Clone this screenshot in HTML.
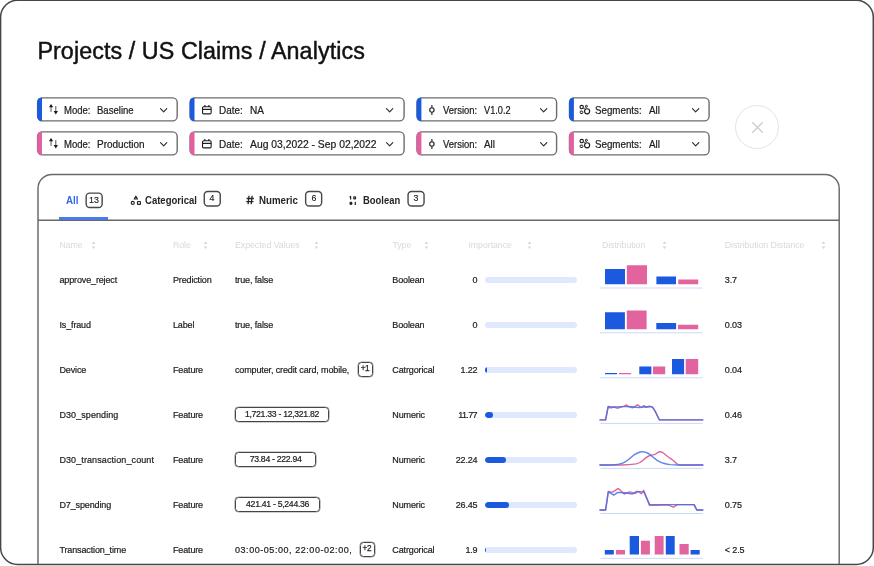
<!DOCTYPE html>
<html lang="en">
<head>
<meta charset="utf-8">
<title>Projects / US Claims / Analytics</title>
<style>
html,body{margin:0;padding:0;background:#fff;}
body{width:874px;height:566px;position:relative;overflow:hidden;font-family:"Liberation Sans",sans-serif;color:#1c1c1e;will-change:transform;}
*{box-sizing:border-box;}
.bg{position:absolute;left:0;top:0;width:874px;height:566px;pointer-events:none;}
h1{position:absolute;left:37.4px;top:37.2px;margin:0;font-size:23.3px;line-height:28px;font-weight:400;letter-spacing:.08px;white-space:nowrap;color:#111;-webkit-text-stroke:.45px #111;}

/* filter pills */
.pill{position:absolute;height:25px;font-size:10.5px;line-height:12px;white-space:nowrap;color:#202022;}
.r1{top:97px;--dy:0px;} .r2{top:131px;--dy:.05px;}
.pill .ol{position:absolute;left:0;top:0;width:100%;height:100%;overflow:visible;}
.pill .ol g{transform:translate(var(--dx),var(--dy));}
.pill .ol rect{x:.7px;y:.85px;height:23px;rx:4.6px;ry:4.6px;fill:#fff;stroke:#6c6c6c;stroke-width:1.4px;}
.pill.b .ol path{fill:#1b59df;} .pill.p .ol path{fill:#e2609f;}
.pill span{position:absolute;top:6.5px;display:block;transform-origin:0 50%;transform:scaleX(.915);-webkit-text-stroke:.22px #202022;}
.pill .ic,.pill .cv{position:absolute;overflow:visible;}
.pill .ic{top:7.4px;width:10px;height:10px;}
.pill .cv{top:10.9px;width:7.3px;height:4.7px;}
.mode{left:36px;width:143px;} .mode{--dx:.9px;} .mode .ol rect{width:139.6px;} .mode .ic{left:13.2px;} .mode .lb{left:27.9px;} .mode .vl{left:61.4px;} .mode .cv{left:123.9px;}
.date{left:189px;width:217px;} .date{--dx:.4px;} .date .ol rect{width:214px;} .date .ic{left:13px;top:7.8px;} .date .lb{left:30px;} .date .vl{left:60.5px;} .date .cv{left:197.2px;}
.vers{left:416px;width:143px;} .vers{--dx:.3px;} .vers .ol rect{width:139.6px;} .vers .ic{left:13.1px;top:8.2px;} .vers .lb{left:27.3px;} .vers .vl{left:68px;} .vers .cv{left:123.6px;}
.segm{left:568px;width:143px;} .segm{--dx:.8px;} .segm .ol rect{width:139.6px;} .segm .ic{left:11.3px;width:11px;top:8.3px;} .segm .lb{left:26.9px;} .segm .vl{left:81.2px;} .segm .cv{left:123.5px;}

.close{position:absolute;left:735px;top:105px;width:44px;height:44px;border:1px solid #e4e4e8;border-radius:50%;background:#fff;}
.close svg{position:absolute;left:50%;top:50%;width:13px;height:13px;margin:-5.9px 0 0 -6.5px;}

/* tabs */
.tab{position:absolute;top:192.8px;height:14px;font-size:10.6px;line-height:14px;font-weight:700;white-space:nowrap;color:#252527;transform-origin:0 50%;transform:scaleX(.925);}
.tab.on{color:#3069e8;}
.cnt{position:absolute;width:18px;height:17px;font-size:9.8px;line-height:17px;text-align:center;color:#1a1a1c;-webkit-text-stroke:.15px #1a1a1c;}
.cnt svg{position:absolute;left:0;top:0;width:18px;height:17px;overflow:visible;}
.cnt b{position:relative;font-weight:400;display:block;transform:scaleX(.9);}
.tic{position:absolute;overflow:visible;}
.ind{position:absolute;left:58.9px;top:216.9px;width:49.4px;height:2.7px;background:#4a7ae8;}

/* table */
.th{position:absolute;top:239.1px;height:13px;font-size:8.8px;line-height:13px;color:#d9d9de;white-space:nowrap;letter-spacing:-.05px;}
.so{position:absolute;top:241.4px;width:5px;height:8.4px;overflow:visible;}
.row{position:absolute;left:38px;width:801px;height:45px;}
.row>*{position:absolute;}
.c{top:16.7px;height:13px;font-size:9px;line-height:13px;letter-spacing:-.13px;white-space:nowrap;color:#1c1c1e;-webkit-text-stroke:.2px #1c1c1e;}
.c1{left:21.4px;} .c2{left:134.9px;} .c3{left:197px;} .c4{left:354.3px;} .c5{left:380px;width:59.5px;text-align:right;} .c7{left:686.8px;}
.rng{top:15.2px;left:196.8px;height:15px;border:1px solid #454545;box-shadow:0 0 0 .3px #454545;border-radius:3.5px;font-size:8.7px;line-height:13px;text-align:center;color:#1c1c1e;white-space:nowrap;letter-spacing:-.3px;-webkit-text-stroke:.2px #1c1c1e;}
.more{top:15.3px;width:15px;height:14.6px;border:1px solid #454545;box-shadow:0 0 0 .3px #454545;border-radius:3.5px;font-size:8.2px;line-height:12.4px;text-align:center;color:#1c1c1e;letter-spacing:-.45px;text-indent:-.4px;-webkit-text-stroke:.25px #1c1c1e;}
.trk{left:447px;top:19.6px;width:92px;height:6.2px;border-radius:3.1px;background:#dfe8fc;overflow:hidden;}
.trk i{position:absolute;left:0;top:0;height:100%;border-radius:3.1px;background:#1b59df;}
.ch{left:560px;top:0;width:108px;height:45px;overflow:visible;}
</style>
</head>
<body>
<svg class="bg" viewBox="0 0 874 566" aria-hidden="true">
  <rect x="0.6" y="0.2" width="872.7" height="564.2" rx="17" ry="17" fill="#fff" stroke="#464646" stroke-width="1.5"/>
  <path d="M38 564V188.5a14 14 0 0 1 14-14H825.2a14 14 0 0 1 14 14V564" fill="none" stroke="#686868" stroke-width="1.45"/>
  <path d="M38 220.25H839.2" fill="none" stroke="#686868" stroke-width="1.45"/>
</svg>

<h1>Projects / US Claims / Analytics</h1>

<svg width="0" height="0" style="position:absolute" aria-hidden="true">
  <defs>
    <symbol id="i-mode" viewBox="0 0 10 10" overflow="visible">
      <path d="M2.05 0L4.2 3.35H-.1Z" fill="#161618"/><path d="M2.05 3V7.9" stroke="#4a4a4e" stroke-width=".95" fill="none"/>
      <path d="M6.8 10.4L4.65 7.05H8.95Z" fill="#161618"/><path d="M6.8 2.1V7.4" stroke="#4a4a4e" stroke-width=".95" fill="none"/>
    </symbol>
    <symbol id="i-date" viewBox="0 0 10 10" overflow="visible">
      <rect x=".55" y="1.8" width="8.6" height="7.1" rx="1.1" fill="none" stroke="#1c1c1e" stroke-width="1.1"/>
      <path d="M.55 4.4H9.15" stroke="#1c1c1e" stroke-width="1.2" fill="none"/><path d="M2.9 .1V2M6.9 .1V2" stroke="#1c1c1e" stroke-width="1.15" fill="none"/>
    </symbol>
    <symbol id="i-vers" viewBox="0 0 10 10" overflow="visible">
      <circle cx="2.9" cy="5" r="2.2" fill="none" stroke="#1c1c1e" stroke-width="1.1"/>
      <path d="M2.9 0.1V2.8M2.9 7.2V9.9" stroke="#1c1c1e" stroke-width="1.1" fill="none"/>
    </symbol>
    <symbol id="i-segm" viewBox="0 0 11 10" overflow="visible">
      <circle cx="2.7" cy="2.1" r="1.7" fill="none" stroke="#1c1c1e" stroke-width="1.1"/>
      <circle cx="7.4" cy="1.25" r="1" fill="none" stroke="#1c1c1e" stroke-width="1"/>
      <rect x="1.1" y="6.1" width="2.7" height="2.4" rx=".8" fill="none" stroke="#1c1c1e" stroke-width="1"/>
      <circle cx="8.1" cy="6.3" r="2.55" fill="none" stroke="#1c1c1e" stroke-width="1.15"/>
      <path d="M4.5 3.6C5.5 3.8 6.4 3.3 6.9 2.4" fill="none" stroke="#1c1c1e" stroke-width=".8"/>
    </symbol>
    <symbol id="i-chev" viewBox="0 0 7.3 4.7" overflow="visible">
      <path d="M.5 .6L3.65 3.9L6.8 .6" fill="none" stroke="#2a2a2c" stroke-width="1.1" stroke-linecap="round" stroke-linejoin="round"/>
    </symbol>
    <symbol id="i-sort" viewBox="0 0 5 8.4" overflow="visible">
      <path d="M2.5 .3L4.3 2.9H.7Z M2.5 8.1L4.3 5.5H.7Z" fill="#d6d6dc"/>
    </symbol>
  </defs>
</svg>

<div class="pill b r1 mode"><svg class="ol" aria-hidden="true"><g><rect/><path d="M5.1 .55H4.9A4.9 4.9 0 0 0 .3 5.45V19.25A4.9 4.9 0 0 0 4.9 24.15H5.1Z"/></g></svg><svg class="ic"><use href="#i-mode"/></svg><span class="lb" style="transform:scaleX(0.908)">Mode:</span><span class="vl" style="transform:scaleX(0.909)">Baseline</span><svg class="cv"><use href="#i-chev"/></svg></div>
<div class="pill b r1 date"><svg class="ol" aria-hidden="true"><g><rect/><path d="M5.1 .55H4.9A4.9 4.9 0 0 0 .3 5.45V19.25A4.9 4.9 0 0 0 4.9 24.15H5.1Z"/></g></svg><svg class="ic"><use href="#i-date"/></svg><span class="lb" style="transform:scaleX(0.944)">Date:</span><span class="vl" style="transform:scaleX(0.96)">NA</span><svg class="cv"><use href="#i-chev"/></svg></div>
<div class="pill b r1 vers"><svg class="ol" aria-hidden="true"><g><rect/><path d="M5.1 .55H4.9A4.9 4.9 0 0 0 .3 5.45V19.25A4.9 4.9 0 0 0 4.9 24.15H5.1Z"/></g></svg><svg class="ic"><use href="#i-vers"/></svg><span class="lb" style="transform:scaleX(0.899)">Version:</span><span class="vl" style="transform:scaleX(0.876)">V1.0.2</span><svg class="cv"><use href="#i-chev"/></svg></div>
<div class="pill b r1 segm"><svg class="ol" aria-hidden="true"><g><rect/><path d="M5.1 .55H4.9A4.9 4.9 0 0 0 .3 5.45V19.25A4.9 4.9 0 0 0 4.9 24.15H5.1Z"/></g></svg><svg class="ic"><use href="#i-segm"/></svg><span class="lb" style="transform:scaleX(0.93)">Segments:</span><span class="vl" style="transform:scaleX(0.94)">All</span><svg class="cv"><use href="#i-chev"/></svg></div>

<div class="pill p r2 mode"><svg class="ol" aria-hidden="true"><g><rect/><path d="M5.1 .55H4.9A4.9 4.9 0 0 0 .3 5.45V19.25A4.9 4.9 0 0 0 4.9 24.15H5.1Z"/></g></svg><svg class="ic"><use href="#i-mode"/></svg><span class="lb" style="transform:scaleX(0.908)">Mode:</span><span class="vl" style="transform:scaleX(0.948)">Production</span><svg class="cv"><use href="#i-chev"/></svg></div>
<div class="pill p r2 date"><svg class="ol" aria-hidden="true"><g><rect/><path d="M5.1 .55H4.9A4.9 4.9 0 0 0 .3 5.45V19.25A4.9 4.9 0 0 0 4.9 24.15H5.1Z"/></g></svg><svg class="ic"><use href="#i-date"/></svg><span class="lb" style="transform:scaleX(0.944)">Date:</span><span class="vl" style="transform:scaleX(0.985)">Aug 03,2022 - Sep 02,2022</span><svg class="cv"><use href="#i-chev"/></svg></div>
<div class="pill p r2 vers"><svg class="ol" aria-hidden="true"><g><rect/><path d="M5.1 .55H4.9A4.9 4.9 0 0 0 .3 5.45V19.25A4.9 4.9 0 0 0 4.9 24.15H5.1Z"/></g></svg><svg class="ic"><use href="#i-vers"/></svg><span class="lb" style="transform:scaleX(0.899)">Version:</span><span class="vl" style="transform:scaleX(0.94)">All</span><svg class="cv"><use href="#i-chev"/></svg></div>
<div class="pill p r2 segm"><svg class="ol" aria-hidden="true"><g><rect/><path d="M5.1 .55H4.9A4.9 4.9 0 0 0 .3 5.45V19.25A4.9 4.9 0 0 0 4.9 24.15H5.1Z"/></g></svg><svg class="ic"><use href="#i-segm"/></svg><span class="lb" style="transform:scaleX(0.93)">Segments:</span><span class="vl" style="transform:scaleX(0.94)">All</span><svg class="cv"><use href="#i-chev"/></svg></div>

<div class="close"><svg viewBox="0 0 12 12"><path d="M1.6 1.6L10.4 10.4M10.4 1.6L1.6 10.4" stroke="#cdcdd2" stroke-width="1.3" stroke-linecap="round" fill="none"/></svg></div>

<nav>
  <span class="tab on" style="left:66px;transform:scaleX(.925)">All</span><span class="cnt" style="left:85px;top:192px"><svg aria-hidden="true"><rect x="1.15" y="1.15" width="16" height="14.4" rx="3.5" fill="#fff" stroke="#474747" stroke-width="1.4"/></svg><b style="left:0.00px;top:-1.00px">13</b></span>
  <svg class="tic" style="left:130px;top:195px;width:11px;height:10px" viewBox="0 0 11 10"><path d="M5.85 1.2L7.5 4H4.2Z" fill="none" stroke="#252527" stroke-width="1.2" stroke-linejoin="round"/><circle cx="2.75" cy="7.95" r="1.5" fill="none" stroke="#252527" stroke-width="1.2"/><rect x="7.5" y="6.5" width="2.9" height="2.9" rx=".5" fill="none" stroke="#252527" stroke-width="1.2"/></svg>
  <span class="tab" style="left:144.6px;transform:scaleX(.90)">Categorical</span><span class="cnt" style="left:203px;top:190px"><svg aria-hidden="true"><rect x="1.25" y="1.55" width="16" height="14.4" rx="3.5" fill="#fff" stroke="#474747" stroke-width="1.4"/></svg><b style="left:0.10px;top:-0.60px">4</b></span>
  <svg class="tic" style="left:246px;top:195px;width:8px;height:10px" viewBox="0 0 8 10"><path d="M3 .7L2.1 9.3M6.1 .7L5.2 9.3M.6 3.5H7.9M.2 6.6H7.5" fill="none" stroke="#252527" stroke-width="1.3"/></svg>
  <span class="tab" style="left:259px;transform:scaleX(.915)">Numeric</span><span class="cnt" style="left:305px;top:190px"><svg aria-hidden="true"><rect x="0.65" y="1.55" width="16" height="14.4" rx="3.5" fill="#fff" stroke="#474747" stroke-width="1.4"/></svg><b style="left:-0.50px;top:-0.60px">6</b></span>
  <svg class="tic" style="left:349px;top:195.6px;width:8px;height:9px" viewBox="0 0 8 9"><path d="M.6 1.2L1.6 .5V3.4M6.3 5.8V8.9" stroke="#252527" stroke-width="1.25" fill="none" stroke-linejoin="round"/><rect x="4.7" y=".9" width="1.9" height="1.9" rx=".6" fill="none" stroke="#252527" stroke-width="1.2"/><rect x=".5" y="5.8" width="2.9" height="3.1" rx="1.1" fill="#252527"/></svg>
  <span class="tab" style="left:363.2px;transform:scaleX(.89)">Boolean</span><span class="cnt" style="left:407px;top:190px"><svg aria-hidden="true"><rect x="1.05" y="1.55" width="16" height="14.4" rx="3.5" fill="#fff" stroke="#474747" stroke-width="1.4"/></svg><b style="left:-0.10px;top:-0.60px">3</b></span>
  <i class="ind"></i>
</nav>


<div class="thead">
  <span class="th" style="left:59.4px">Name</span><svg class="so" style="left:91.1px"><use href="#i-sort"/></svg>
  <span class="th" style="left:172.9px">Role</span><svg class="so" style="left:202.9px"><use href="#i-sort"/></svg>
  <span class="th" style="left:235px">Expected Values</span><svg class="so" style="left:313.9px"><use href="#i-sort"/></svg>
  <span class="th" style="left:392.4px">Type</span><svg class="so" style="left:424.1px"><use href="#i-sort"/></svg>
  <span class="th" style="left:468.4px">Importance</span><svg class="so" style="left:526.9px"><use href="#i-sort"/></svg>
  <span class="th" style="left:601.9px">Distribution</span><svg class="so" style="left:661.9px"><use href="#i-sort"/></svg>
  <span class="th" style="left:724.8px">Distribution Distance</span><svg class="so" style="left:820.5px"><use href="#i-sort"/></svg>
</div>

<div class="row" style="top:257px">
  <span class="c c1">approve_reject</span><span class="c c2">Prediction</span><span class="c c3">true, false</span><span class="c c4">Boolean</span>
  <span class="c c5">0</span><div class="trk"></div>
  <svg class="ch" viewBox="0 0 108 45"><path d="M2 31H104.4" stroke="#cbd9f8" stroke-width="1"/><path d="M7 12H27V27.2H7ZM58.4 19.6H78V27.2H58.4Z" fill="#1b59df"/><path d="M28.8 8.3H49V27.2H28.8ZM80.3 22.6H100.2V27.2H80.3Z" fill="#e2649f"/></svg>
  <span class="c c7">3.7</span>
</div>
<div class="row" style="top:302px">
  <span class="c c1">Is_fraud</span><span class="c c2">Label</span><span class="c c3">true, false</span><span class="c c4">Boolean</span>
  <span class="c c5">0</span><div class="trk"></div>
  <svg class="ch" viewBox="0 0 108 45"><path d="M2 30.8H104.6" stroke="#cbd9f8" stroke-width="1"/><path d="M7 10.2H26.9V27.2H7ZM58.3 21H78.1V27.2H58.3Z" fill="#1b59df"/><path d="M28.8 8.6H48.6V27.2H28.8ZM80 22.7H100.2V27.2H80Z" fill="#e2649f"/></svg>
  <span class="c c7">0.03</span>
</div>
<div class="row" style="top:347px">
  <span class="c c1">Device</span><span class="c c2">Feature</span><span class="c c3">computer, credit card, mobile,</span><span class="more" style="left:319.7px">+1</span><span class="c c4">Catrgorical</span>
  <span class="c c5">1.22</span><div class="trk"><i style="width:1.8px"></i></div>
  <svg class="ch" viewBox="0 0 108 45"><path d="M2 30.8H104.6" stroke="#cbd9f8" stroke-width="1"/><path d="M7 25.9H19V27.3H7ZM41.3 19.6H53.4V27.3H41.3ZM74 12H86.1V27.3H74Z" fill="#1b59df"/><path d="M20.8 25.9H33.1V27.3H20.8ZM55 19.6H67.2V27.3H55ZM87.7 12H100.2V27.3H87.7Z" fill="#e2649f"/></svg>
  <span class="c c7">0.04</span>
</div>
<div class="row" style="top:392px">
  <span class="c c1" style="letter-spacing:.08px">D30_spending</span><span class="c c2">Feature</span><span class="rng" style="width:94.4px">1,721.33 - 12,321.82</span><span class="c c4">Numeric</span>
  <span class="c c5" style="letter-spacing:-.6px;padding-right:.5px">11.77</span><div class="trk"><i style="width:8px"></i></div>
  <svg class="ch" viewBox="0 0 108 45"><path d="M2.5 31.4H104.8" stroke="#cbd9f8" stroke-width="1"/>
    <path d="M1.5 27.9H7.6L10.2 14.6L12 15.8L13.6 15.9L16 15L19 16.2L22.5 15.4L26 14.2L28.5 13L31 14.6L34.5 15.8L37 14.4L39.5 12.8L42 14.6L44 15L46 13.6L48 15.2L51 14.2L53.5 14.6C56.5 15.5 59 24 61.5 27.9H105.3" fill="none" stroke="#e2649f" stroke-width="1.4" stroke-linejoin="round"/>
    <path d="M1.5 27.9H7.6L10.2 14.4L13 15L18 15L23 14.6L28 14.6L33 14.8L38 15.2L42 15.6L46 14.8L50 15L53.5 14.6C56.5 15.5 59 24 61.5 27.9H105.3" fill="none" stroke="#3f6fe6" stroke-opacity=".85" stroke-width="1.4" stroke-linejoin="round"/></svg>
  <span class="c c7">0.46</span>
</div>
<div class="row" style="top:437px">
  <span class="c c1" style="letter-spacing:.1px">D30_transaction_count</span><span class="c c2">Feature</span><span class="rng" style="width:81.6px">73.84 - 222.94</span><span class="c c4">Numeric</span>
  <span class="c c5">22.24</span><div class="trk"><i style="width:20.5px"></i></div>
  <svg class="ch" viewBox="0 0 108 45"><path d="M2.5 31.4H104.8" stroke="#cbd9f8" stroke-width="1"/>
    <path d="M1.5 28H24C30 28 34 27.6 38.1 26.9C41 26.3 43 25 44.5 23.7C47 21.5 49 19.6 50.8 19C52.5 18.3 53.5 18.1 54.8 17.9L57.2 17.4C58.5 16.5 60 14.7 61.5 14.7C63 14.7 64 15 65.1 15.8C67 17.2 68.5 18.8 69.9 19.8C71.5 21 73 21.8 74.7 23C77 24.8 78.5 27 80.2 27.7L83 28H105.3" fill="none" stroke="#e2649f" stroke-width="1.4" stroke-linejoin="round"/>
    <path d="M1.5 28H14C24 28 28 25 33 20.5C37 16.8 40.5 14.8 44.8 14.8C49 14.8 52 17 55.5 20.6C60 25 65 27 72 27.6L81 28H105.3" fill="none" stroke="#3f6fe6" stroke-opacity=".85" stroke-width="1.4" stroke-linejoin="round"/></svg>
  <span class="c c7">3.7</span>
</div>
<div class="row" style="top:482px">
  <span class="c c1">D7_spending</span><span class="c c2">Feature</span><span class="rng" style="width:85.6px">421.41 - 5,244.36</span><span class="c c4">Numeric</span>
  <span class="c c5">26.45</span><div class="trk"><i style="width:23.5px"></i></div>
  <svg class="ch" viewBox="0 0 108 45"><path d="M2.5 31.5H104.8" stroke="#cbd9f8" stroke-width="1"/>
    <path d="M1.5 28H7.6L10.3 9.4L14.3 10.4L20.3 6.4L26.2 12L31.7 9.9L37.3 11.5L40.5 9.4L43.2 11.8L45.7 8.3L51.6 23.4L60 23.2L70 22.8L75.4 25.2L79.5 22.6H96.1L98.8 28H105.3" fill="none" stroke="#e2649f" stroke-width="1.4" stroke-linejoin="round"/>
    <path d="M1.5 28H7.6L10.3 9.9L15.8 13.1L19.8 10.4L26.6 10.7L34.5 12L38.5 9.4L44 9.9L46 10.2L51.6 22.6H96.1L98.8 28H105.3" fill="none" stroke="#3f6fe6" stroke-opacity=".85" stroke-width="1.4" stroke-linejoin="round"/></svg>
  <span class="c c7">0.75</span>
</div>
<div class="row" style="top:527px">
  <span class="c c1">Transaction_time</span><span class="c c2">Feature</span><span class="c c3" style="letter-spacing:.55px">03:00-05:00, 22:00-02:00,</span><span class="more" style="left:321.5px">+2</span><span class="c c4">Catrgorical</span>
  <span class="c c5">1.9</span><div class="trk"><i style="width:1.4px"></i></div>
  <svg class="ch" viewBox="0 0 108 45"><path d="M2.5 31.3H104.8" stroke="#cbd9f8" stroke-width="1"/><path d="M6.8 22.9H15.8V27.4H6.8ZM31.7 9.1H41V27.4H31.7ZM67.8 9.1H76.7V27.4H67.8ZM92.6 22.9H101.7V27.4H92.6Z" fill="#1b59df"/><path d="M17.9 22.9H27V27.4H17.9ZM42.9 13.7H51.9V27.4H42.9ZM56.7 9.1H65.6V27.4H56.7ZM81.5 17H90.7V27.4H81.5Z" fill="#e2649f"/></svg>
  <span class="c c7">&lt; 2.5</span>
</div>

</body>
</html>
